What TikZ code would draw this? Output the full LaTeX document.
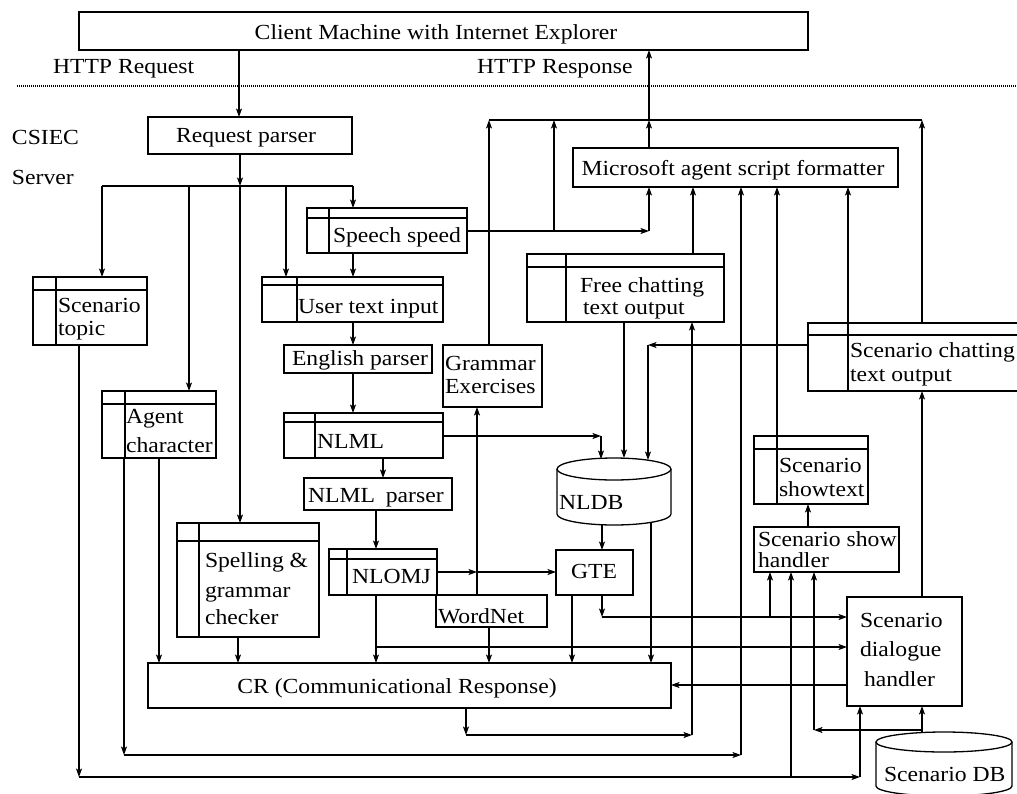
\documentclass[tikz,border=0pt]{standalone}
\usepackage{fontspec}
\setmainfont{Liberation Serif}[FakeStretch=1.1]
\usetikzlibrary{arrows.meta,fit}
\tikzset{
 ln/.style={line width=1.3pt, draw=black},
 arr/.style={ln, -{Stealth[length=8.5pt,width=6pt,inset=2pt]}},
 bx/.style={ln, draw, inner sep=0pt, outer sep=0pt},
 lbl/.style={inner sep=0pt, outer sep=0pt, font=\fontsize{21.5}{24}\selectfont, text=black, anchor=base west},
}
\newcommand\myrbox[5]{\node[bx, fit={(#2,#3) (#4,#5)}] (#1) {};}
\newcommand\mytbox[7]{\myrbox{#1}{#2}{#3}{#4}{#5}%
 \draw[ln] ([yshift=-#6pt]#1.north west) -- ([yshift=-#6pt]#1.north east);%
 \draw[ln] ([xshift=#7pt]#1.north west) -- ([xshift=#7pt]#1.south west);}
\newcommand\mytx[4]{\node[lbl] (#1) at (#2,#3) {#4};}
\begin{document}
\begin{tikzpicture}[x=1pt,y=-1pt]
\clip (0,0) rectangle (1017,793);
\fill[white] (0,0) rectangle (1017,793);

% ---------- boxes ----------
\myrbox{client}{79}{12}{808}{50}
\myrbox{rp}{148}{117}{352}{154}
\myrbox{fmt}{573}{148}{898}{187}
\mytbox{speech}{307}{208}{467}{253}{10}{22}
\mytbox{topic}{33}{277}{147}{345}{13}{23}
\mytbox{uti}{262}{277}{443}{322}{8}{35}
\myrbox{ep}{284}{345}{432}{373}
\myrbox{ge}{443}{345}{542}{407}
\mytbox{agent}{102}{391}{216}{458}{13}{23}
\mytbox{nlml}{284}{413}{443}{458}{9}{31}
\myrbox{nlmlp}{304}{478}{452}{510}
\mytbox{spell}{177}{523}{319}{637}{18}{22}
\mytbox{nlomj}{329}{549}{437}{595}{10}{18}
\myrbox{wn}{436}{595}{547}{627}
\myrbox{gte}{556}{550}{633}{595}
\myrbox{cr}{148}{663}{671}{708}
\mytbox{free}{527}{254}{724}{322}{13}{39}
\mytbox{schat}{808}{323}{1030}{391}{12}{40}
\mytbox{show}{754}{436}{868}{504}{13}{23}
\myrbox{shh}{754}{527}{899}{572}
\myrbox{sdh}{847}{597}{962}{706}

% cylinders
\node[inner sep=0pt, outer sep=0pt, fit={(557,458) (671,525)}] (nldb) {};
\draw[ln, fill=white] (557,469) -- (557,514) arc[start angle=180, end angle=0, x radius=57, y radius=11] -- (671,469);
\draw[ln] (614,469) ellipse[x radius=57, y radius=11];
\node[inner sep=0pt, outer sep=0pt, fit={(876,732) (1012,793)}] (sdb) {};
\draw[ln, fill=white] (876,742) -- (876,786) arc[start angle=180, end angle=0, x radius=68, y radius=10] -- (1012,742);
\draw[ln] (944,742) ellipse[x radius=68, y radius=10];

% ---------- texts ----------
\node[lbl, anchor=base] (tclient) at (436,39) {Client Machine with Internet Explorer};
\mytx{treq}{53}{73}{HTTP Request}
\mytx{tresp}{477}{73}{HTTP Response}
\mytx{tcsiec}{12}{144}{CSIEC}
\mytx{tserver}{12}{184}{Server}
\node[lbl, anchor=base] (trp) at (246,142) {Request parser};
\mytx{tspeech}{333}{242}{Speech speed}
\node[lbl, anchor=base] (tfmt) at (733,175) {Microsoft agent script formatter};
\mytx{tfree1}{580}{292}{Free chatting}
\mytx{tfree2}{583}{314}{text output}
\mytx{tschat1}{850}{357}{Scenario chatting}
\mytx{tschat2}{850}{381}{text output}
\mytx{ttopic1}{58}{312}{Scenario}
\mytx{ttopic2}{58}{335}{topic}
\mytx{tuti}{298}{313}{User text input}
\mytx{tep}{292}{365}{English parser}
\mytx{tge1}{445}{370}{Grammar}
\mytx{tge2}{445}{393}{Exercises}
\mytx{tagent1}{126}{423}{Agent}
\mytx{tagent2}{126}{452}{character}
\mytx{tnlml}{317}{448}{NLML}
\mytx{tnlmlp}{308}{502}{NLML\hspace{5pt} parser}
\mytx{tspell1}{205}{567}{Spelling \&}
\mytx{tspell2}{205}{597}{grammar}
\mytx{tspell3}{205}{624}{checker}
\mytx{tnlomj}{352}{583}{NLOMJ}
\mytx{twn}{438}{623}{WordNet}
\mytx{tgte}{571}{578}{GTE}
\mytx{tnldb}{559}{509}{NLDB}
\node[lbl, anchor=base] (tcr) at (397,693) {CR (Communicational Response)};
\mytx{tshow1}{779}{472}{Scenario}
\mytx{tshow2}{779}{496}{showtext}
\mytx{tshh1}{758}{546}{Scenario show}
\mytx{tshh2}{758}{567}{handler}
\mytx{tsdh1}{860}{627}{Scenario}
\mytx{tsdh2}{860}{656}{dialogue}
\mytx{tsdh3}{864}{686}{handler}
\mytx{tsdb}{884}{781}{Scenario DB}

% dotted separator
\draw[line width=1.3pt, dash pattern=on 1pt off 1pt] (17,86) -- (1017,86);

% ---------- connectors ----------
\draw[arr] (239,0 |- client.south) -- (239,0 |- rp.north);
\coordinate (j0) at (240,186);
\draw[arr] (240,0 |- rp.south) -- (j0);
\draw[ln] (102,186) -- (353,186);
\draw[arr] (102,186) -- (102,0 |- topic.north);
\draw[arr] (189,186) -- (189,0 |- agent.north);
\draw[arr] (j0) -- (240,0 |- spell.north);
\draw[arr] (286,186) -- (286,0 |- uti.north);
\draw[arr] (353,186) -- (353,0 |- speech.north);

\draw[arr] (353,0 |- speech.south) -- (353,0 |- uti.north);
\draw[arr] (353,0 |- uti.south) -- (353,0 |- ep.north);
\draw[arr] (353,0 |- ep.south) -- (353,0 |- nlml.north);
\draw[arr] (383,0 |- nlml.south) -- (383,0 |- nlmlp.north);
\draw[arr] (376,0 |- nlmlp.south) -- (376,0 |- nlomj.north);

% speech -> formatter
\coordinate (j1) at (649,231);
\draw[arr] (speech.east |- 0,231) -- (j1);
\draw[arr] (j1) -- (j1 |- fmt.south);
\draw[arr] (554,231) -- (554,120);

% top bus
\draw[ln] (489,120) -- (922,120);
\draw[arr] (489,0 |- ge.north) -- (489,120);
\draw[arr] (649,0 |- fmt.north) -- (649,120);
\draw[arr] (649,120) -- (649,0 |- client.south);
\draw[arr] (922,0 |- schat.north) -- (922,120);

% into formatter
\draw[arr] (693,0 |- free.north) -- (693,0 |- fmt.south);
\draw[arr] (848,0 |- schat.north) -- (848,0 |- fmt.south);
\draw[arr] (777,0 |- show.north) -- (777,0 |- fmt.south);

% agent character
\draw[arr] (124,0 |- agent.south) -- (124,755);
\draw[arr] (124,755) -- (741,755);
\draw[arr] (741,755) -- (741,0 |- fmt.south);
\draw[arr] (159,0 |- agent.south) -- (159,0 |- cr.north);
\draw[arr] (238,0 |- spell.south) -- (238,0 |- cr.north);

% scenario topic
\draw[arr] (79,0 |- topic.south) -- (79,777);
\draw[arr] (79,777) -- (860,777);
\draw[arr] (860,777) -- (860,0 |- sdh.south);
\draw[arr] (791,777) -- (791,0 |- shh.south);

% CR -> free chatting
\draw[arr] (466,0 |- cr.south) -- (466,735);
\draw[arr] (466,735) -- (692,735);
\draw[arr] (692,735) -- (692,0 |- free.south);

% NLDB
\draw[arr] (nlml.east |- 0,436) -- (601,436);
\draw[arr] (601,436) -- (601,459);
\draw[arr] (624,0 |- free.south) -- (624,458);
\draw[arr] (schat.west |- 0,345) -- (648,345);
\draw[arr] (648,345) -- (648,460);
\draw[arr] (602,525) -- (602,0 |- gte.north);
\draw[arr] (651,522) -- (651,0 |- cr.north);

% NLOMJ, GTE, WordNet
\draw[arr] (nlomj.east |- 0,572) -- (477,572);
\draw[arr] (477,572) -- (gte.west |- 0,572);
\draw[arr] (477,0 |- wn.north) -- (477,0 |- ge.south);
\draw[arr] (376,0 |- nlomj.south) -- (376,0 |- cr.north);
\draw[arr] (376,647) -- (sdh.west |- 0,647);
\draw[arr] (489,0 |- wn.south) -- (489,0 |- cr.north);
\draw[arr] (572,0 |- gte.south) -- (572,0 |- cr.north);
\draw[arr] (602,0 |- gte.south) -- (602,617);
\draw[arr] (602,617) -- (sdh.west |- 0,617);
\draw[arr] (770,617) -- (770,0 |- shh.south);

% scenario handlers
\draw[arr] (sdh.west |- 0,685) -- (cr.east |- 0,685);
\draw[arr] (922,0 |- sdh.north) -- (922,0 |- schat.south);
\draw[arr] (808,0 |- shh.north) -- (808,0 |- show.south);
\draw[arr] (922,732) -- (922,0 |- sdh.south);
\draw[arr] (922,730) -- (814,730);
\draw[arr] (814,730) -- (814,0 |- shh.south);
\end{tikzpicture}
\end{document}
